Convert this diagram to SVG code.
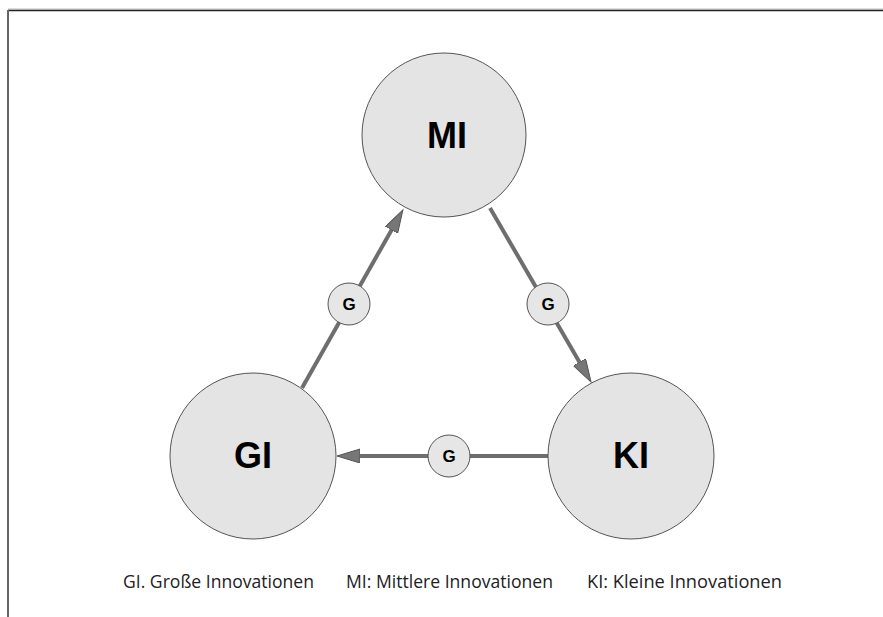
<svg xmlns="http://www.w3.org/2000/svg" width="883" height="617" viewBox="0 0 883 617">
<style>
.big{fill:#e4e4e4;stroke:#555;stroke-width:1}
.small{fill:#e6e6e6;stroke:#555;stroke-width:1}
.lbl{font-family:"Liberation Sans",Arial,sans-serif;font-weight:bold;fill:#000;text-anchor:middle}
.conn{stroke:#6e6e6e;stroke-width:4;fill:none}
.cap{font-family:"Open Sans","Liberation Sans",sans-serif;font-size:18px;fill:#222}
</style>
<defs>
<marker id="ah" markerUnits="userSpaceOnUse" markerWidth="26" markerHeight="16" refX="3" refY="7" orient="auto">
<path d="M0,0 L23,7 L0,14 Z" fill="#777" stroke="#555" stroke-width="1"/>
</marker>
</defs>
<rect x="0" y="0" width="883" height="617" fill="#fff"/>
<line x1="8" y1="9" x2="883" y2="9" stroke="#bbb" stroke-width="1"/>
<line x1="8" y1="10.5" x2="883" y2="10.5" stroke="#222" stroke-width="1.5"/>
<line x1="8" y1="10" x2="8" y2="617" stroke="#666" stroke-width="2"/>
<g id="connectors">
<line class="conn" x1="302" y1="388" x2="393" y2="227.4" marker-end="url(#ah)"/>
<line class="conn" x1="490" y1="208" x2="581" y2="364.7" marker-end="url(#ah)"/>
<line class="conn" x1="548" y1="456" x2="357" y2="456" marker-end="url(#ah)"/>
</g>
<g id="MI">
<circle class="big" cx="444" cy="135" r="82"/>
<text class="lbl" x="447" y="148" font-size="36">MI</text>
</g>
<g id="GI">
<circle class="big" cx="253" cy="456" r="83"/>
<text class="lbl" x="253" y="468" font-size="36">GI</text>
</g>
<g id="KI">
<circle class="big" cx="631" cy="456" r="83"/>
<text class="lbl" x="631" y="468" font-size="36">KI</text>
</g>
<g id="G1">
<circle class="small" cx="349" cy="304" r="21"/>
<text class="lbl" x="349" y="310" font-size="17">G</text>
</g>
<g id="G2">
<circle class="small" cx="548" cy="304" r="21"/>
<text class="lbl" x="548" y="310" font-size="17">G</text>
</g>
<g id="G3">
<circle class="small" cx="449" cy="456" r="21"/>
<text class="lbl" x="449" y="462" font-size="17">G</text>
</g>
<g id="legend">
<text class="cap" x="123" y="588" textLength="191" lengthAdjust="spacingAndGlyphs">GI. Große Innovationen</text>
<text class="cap" x="346" y="588" textLength="207" lengthAdjust="spacingAndGlyphs">MI: Mittlere Innovationen</text>
<text class="cap" x="587" y="588" textLength="195" lengthAdjust="spacingAndGlyphs">KI: Kleine Innovationen</text>
</g>
</svg>
